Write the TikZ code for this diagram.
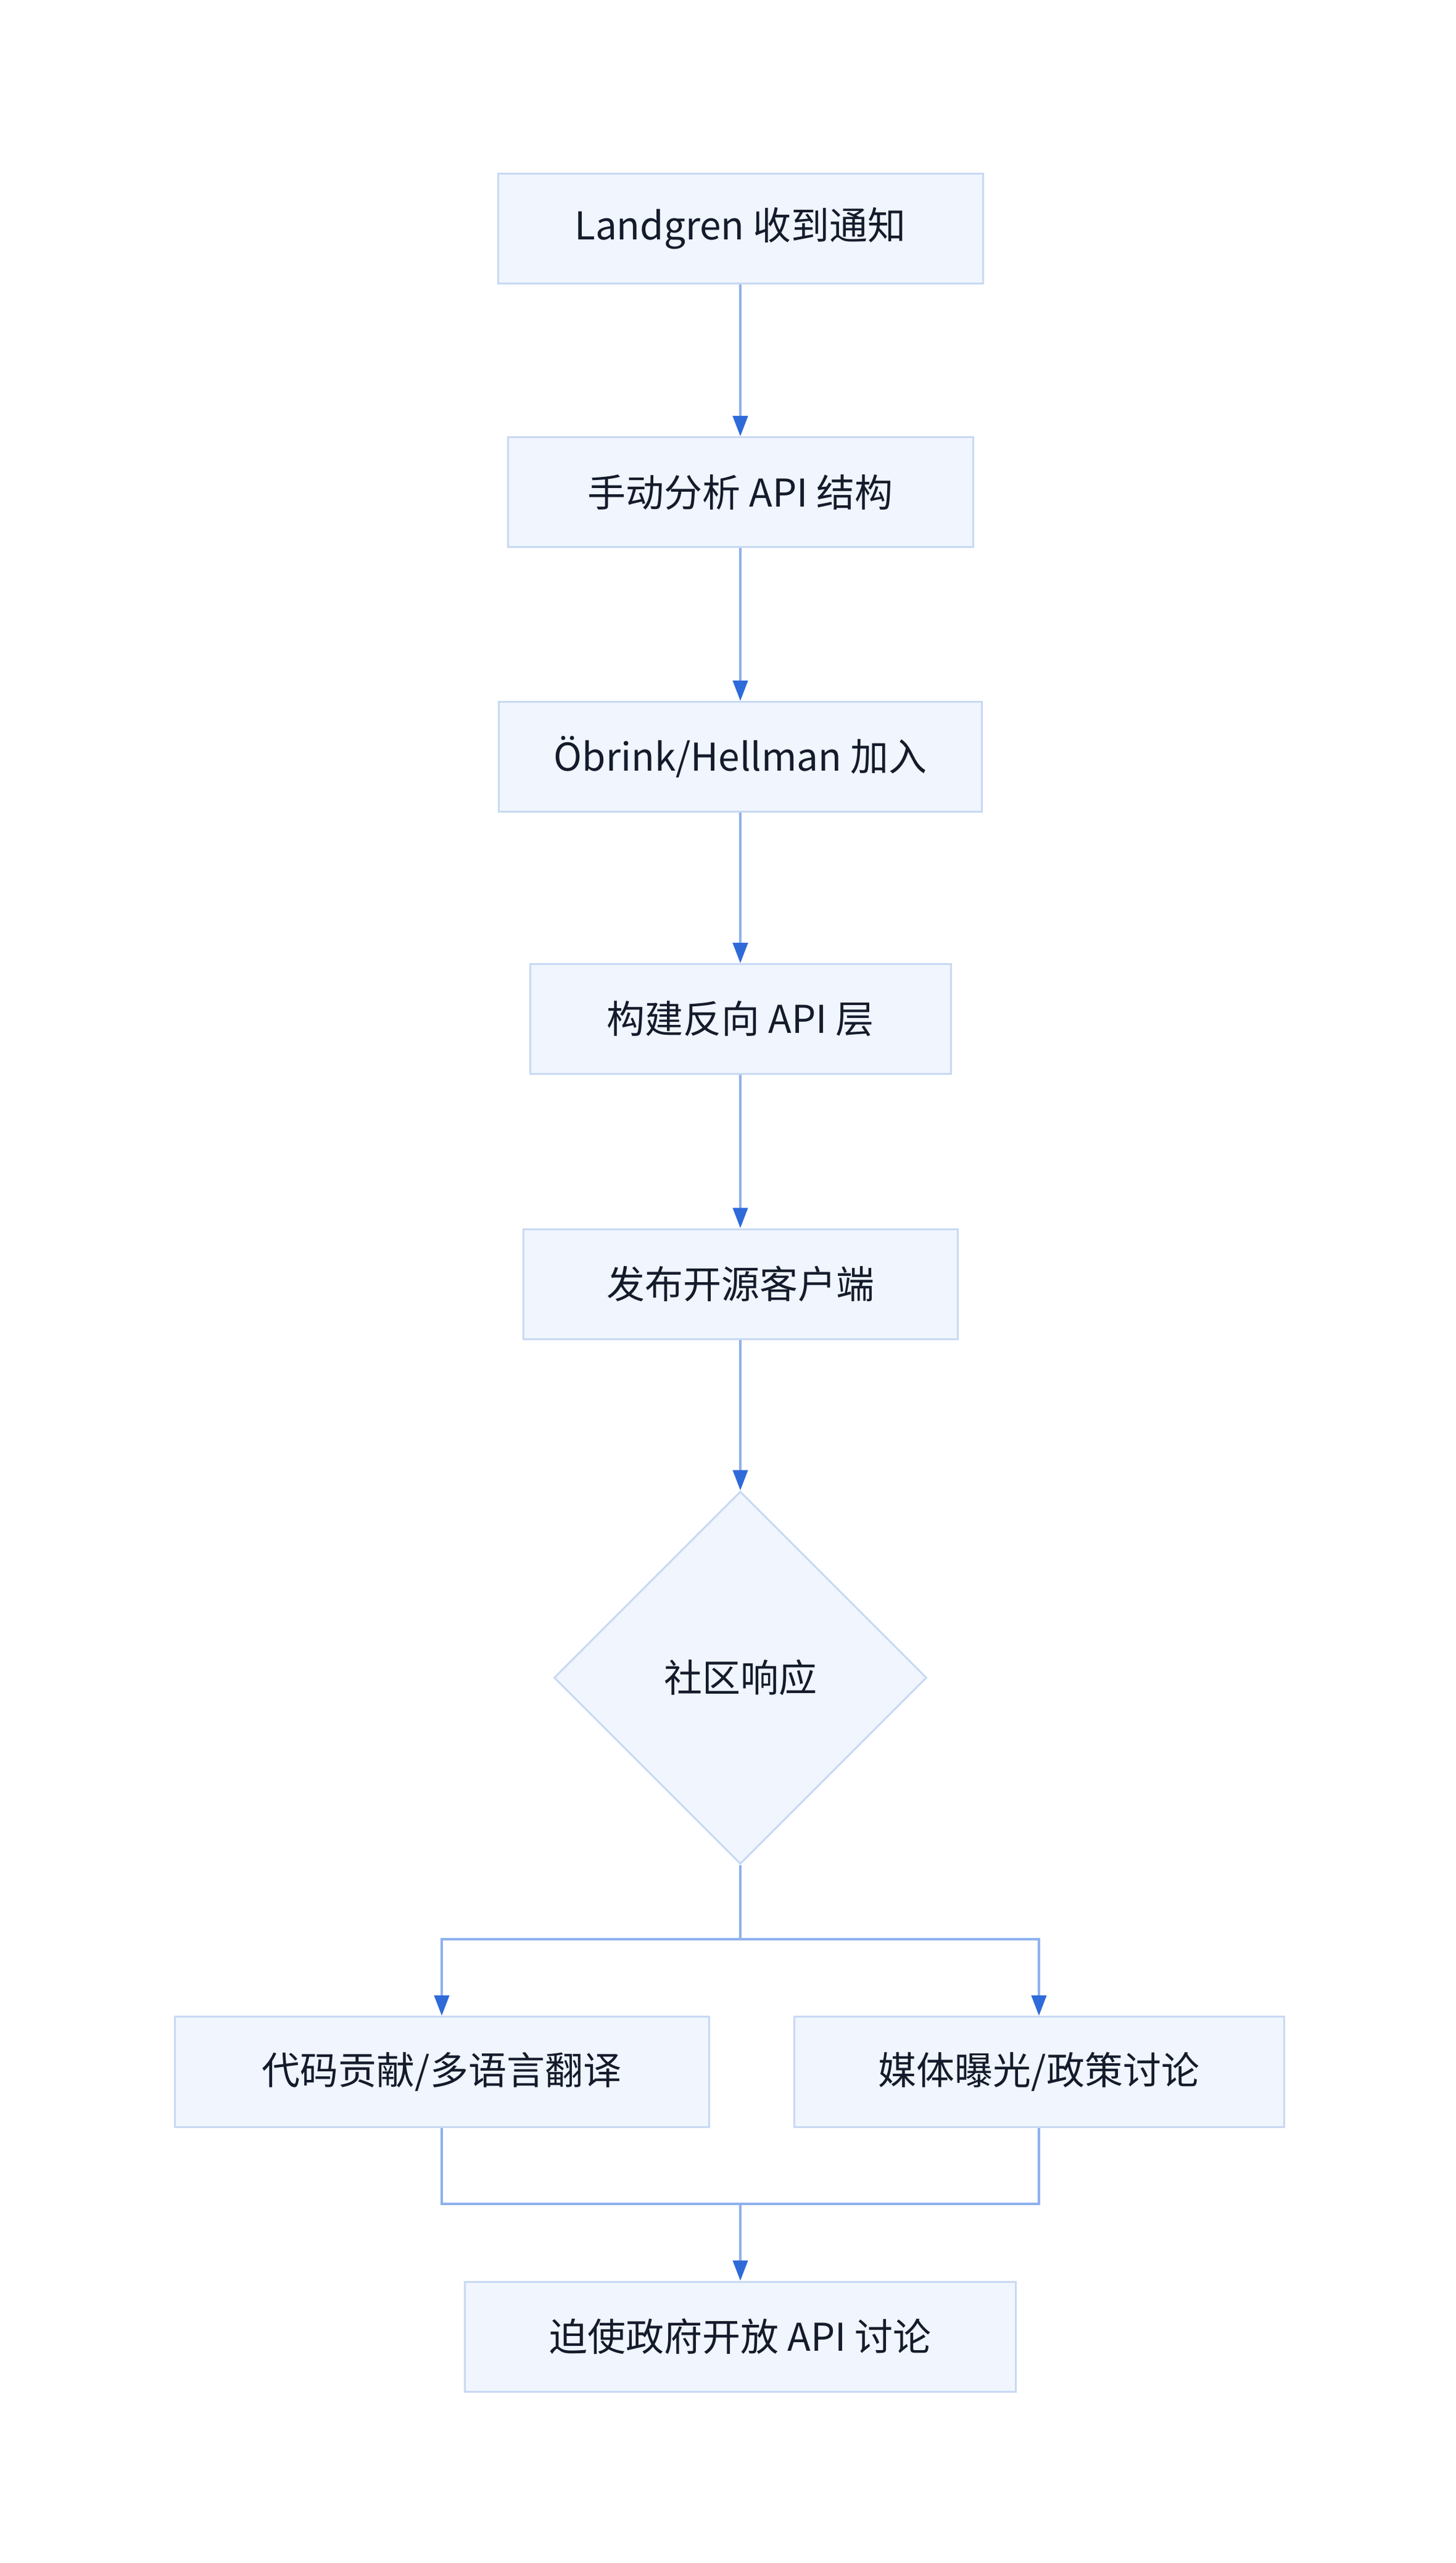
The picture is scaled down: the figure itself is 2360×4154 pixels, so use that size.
\documentclass[tikz,border=0pt]{standalone}
\usepackage{fontspec}
\setmainfont{Noto Sans CJK SC}
\usetikzlibrary{arrows.meta,shapes.geometric}
\definecolor{boxfill}{HTML}{F0F5FE}
\definecolor{boxline}{HTML}{C8D9F3}
\definecolor{edgeline}{HTML}{8EB1EE}
\definecolor{tipcol}{HTML}{2F6AD9}
\definecolor{txt}{HTML}{141B2B}
\tikzset{
  stepbox/.style={draw=boxline, fill=boxfill, line width=3pt, rectangle,
    inner sep=0pt, minimum height=178pt, text=txt,
    font=\fontsize{62}{74}\selectfont},
  decision/.style={draw=boxline, fill=boxfill, line width=3pt, diamond,
    inner sep=0pt, minimum width=604pt, minimum height=604pt, text=txt,
    font=\fontsize{62}{74}\selectfont},
  link/.style={draw=edgeline, line width=4pt, line join=miter},
  flow/.style={link, -{Triangle[length=33pt,width=24pt,color=tipcol]}}
}
\begin{document}
\begin{tikzpicture}[x=1pt,y=-1pt]
\useasboundingbox (0,0) rectangle (2360,4154);
\node[stepbox, minimum width=786pt] (b1) at (1200,370.5) {Landgren 收到通知};
\node[stepbox, minimum width=754pt] (b2) at (1200,797.7) {手动分析 API 结构};
\node[stepbox, minimum width=783pt] (b3) at (1200,1226.5) {Öbrink/Hellman 加入};
\node[stepbox, minimum width=682pt] (b4) at (1200,1651.6) {构建反向 API 层};
\node[stepbox, minimum width=704pt] (b5) at (1200,2081) {发布开源客户端};
\node[decision] (d) at (1200,2719) {社区响应};
\node[stepbox, minimum width=866pt, minimum height=179pt] (b7) at (716,3358) {代码贡献/多语言翻译};
\node[stepbox, minimum width=794pt, minimum height=179pt] (b8) at (1684,3358) {媒体曝光/政策讨论};
\node[stepbox, minimum width=893pt] (b9) at (1200,3787) {迫使政府开放 API 讨论};
\coordinate (split) at (1200,3143);
\coordinate (merge) at (1200,3572);
\draw[flow] (b1) -- (b2);
\draw[flow] (b2) -- (b3);
\draw[flow] (b3) -- (b4);
\draw[flow] (b4) -- (b5);
\draw[flow] (b5) -- (d);
\draw[flow] (d.south) -- (split) -| (b7.north);
\draw[flow] (split) -| (b8.north);
\draw[link] (b7.south) |- (merge);
\draw[link] (b8.south) |- (merge);
\draw[flow] (merge) -- (b9.north);
\end{tikzpicture}
\end{document}
